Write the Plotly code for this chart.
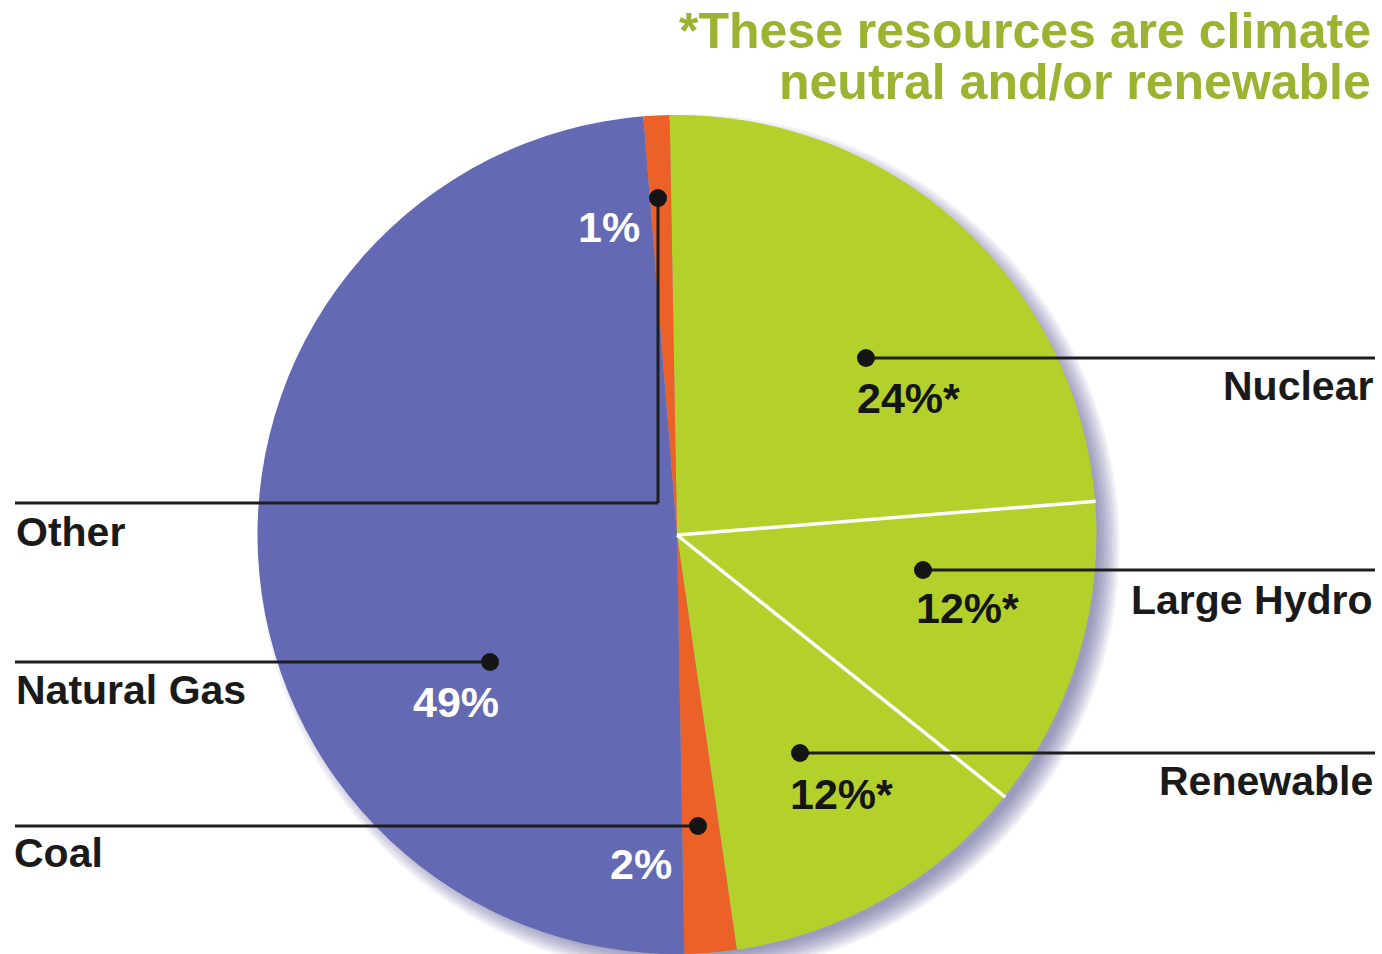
import math
import plotly.graph_objects as go

# ---------------- data ----------------
categories = ["Nuclear", "Large Hydro", "Renewable", "Coal", "Natural Gas", "Other"]
shares = [24, 12, 12, 2, 49, 1]
pct_labels = ["24%*", "12%*", "12%*", "2%", "49%", "1%"]
title_lines = ["*These resources are climate", "neutral and/or renewable"]
# slices separated by a thin white rule (between the climate-neutral ones)
separated_after = ["Nuclear", "Large Hydro"]

# ---------------- styles ----------------
slice_colors = ["#B3D12A", "#B3D12A", "#B3D12A", "#EC6128", "#636AB3", "#EC6128"]
title_color = "#9AB330"
FONT = "Liberation Sans, Arial, Helvetica, sans-serif"
W, H = 1382, 954
ROTATION = -1

def px(x):
    return x / W

def py(y):
    return 1 - y / H

# pie geometry (pixels)
CX, CY, R = 677, 535, 420

# callout layout (pixel positions of dots, line ends, label text)
callouts = {
    "Nuclear":     dict(dot=(866, 358), line_to=[(1375, 358)], label=(1375, 386, "right"),
                        pct=(855, 398, "left"), pct_color="#151515"),
    "Large Hydro": dict(dot=(923, 570), line_to=[(1375, 570)], label=(1375, 600, "right"),
                        pct=(914, 608, "left"), pct_color="#151515"),
    "Renewable":   dict(dot=(800, 753), line_to=[(1375, 753)], label=(1375, 781, "right"),
                        pct=(788, 794, "left"), pct_color="#151515"),
    "Coal":        dict(dot=(698, 826), line_to=[(15, 826)], label=(12, 853, "left"),
                        pct=(674, 864, "right"), pct_color="white"),
    "Natural Gas": dict(dot=(490, 662), line_to=[(15, 662)], label=(14, 690, "left"),
                        pct=(501, 702, "right"), pct_color="white"),
    "Other":       dict(dot=(658, 198), line_to=[(658, 503), (15, 503)], label=(14, 532, "left"),
                        pct=(642, 227, "right"), pct_color="white"),
}

fig = go.Figure()

fig.add_trace(go.Pie(
    labels=categories,
    values=shares,
    sort=False,
    direction="clockwise",
    rotation=ROTATION,
    marker=dict(colors=slice_colors, line=dict(width=0)),
    textinfo="none",
    hoverinfo="label+percent",
    showlegend=False,
    domain=dict(x=[px(CX - R), px(CX + R)], y=[0, py(CY - R)]),
))

shapes = []
# soft drop shadow behind the pie (offset down-right)
for k in range(1, 10):
    r = R - 12 + k * 2.5
    sx, sy = CX + 12, CY + 10
    shapes.append(dict(type="circle", xref="paper", yref="paper", layer="below",
                       x0=px(sx - r), x1=px(sx + r), y0=py(sy + r), y1=py(sy - r),
                       fillcolor="rgba(50,60,130,0.07)", line=dict(width=0)))

# white separators derived from the slice boundaries
total = sum(shares)
cum = 0
for cat, v in zip(categories, shares):
    cum += v
    if cat in separated_after:
        ang = math.radians(ROTATION + 360 * cum / total)
        ex = CX + R * math.sin(ang)
        ey = CY - R * math.cos(ang)
        shapes.append(dict(type="line", xref="paper", yref="paper", layer="above",
                           x0=px(CX), y0=py(CY), x1=px(ex), y1=py(ey),
                           line=dict(color="white", width=3.5)))

annotations = []
for cat, pct in zip(categories, pct_labels):
    c = callouts[cat]
    pts = [c["dot"]] + c["line_to"]
    for (x0, y0), (x1, y1) in zip(pts[:-1], pts[1:]):
        shapes.append(dict(type="line", xref="paper", yref="paper", layer="above",
                           x0=px(x0), y0=py(y0), x1=px(x1), y1=py(y1),
                           line=dict(color="#1E1E1E", width=3)))
    dx, dy = c["dot"]
    rr = 9
    shapes.append(dict(type="circle", xref="paper", yref="paper", layer="above",
                       x0=px(dx - rr), x1=px(dx + rr), y0=py(dy + rr), y1=py(dy - rr),
                       fillcolor="#151515", line=dict(width=0)))
    lx, ly, la = c["label"]
    annotations.append(dict(text=cat, xref="paper", yref="paper", x=px(lx), y=py(ly),
                            xanchor=la, yanchor="middle", showarrow=False,
                            font=dict(family=FONT, size=41, color="#1A1A1A", weight="bold")))
    tx, ty, ta = c["pct"]
    annotations.append(dict(text=pct, xref="paper", yref="paper", x=px(tx), y=py(ty),
                            xanchor=ta, yanchor="middle", showarrow=False,
                            font=dict(family=FONT, size=43, color=c["pct_color"], weight="bold")))

for line, yc in zip(title_lines, [31, 82]):
    annotations.append(dict(text=line, xref="paper", yref="paper", x=px(1373), y=py(yc),
                            xanchor="right", yanchor="middle", showarrow=False,
                            font=dict(family=FONT, size=50, color=title_color, weight="bold")))

fig.update_layout(
    width=W, height=H,
    margin=dict(l=0, r=0, t=0, b=0),
    paper_bgcolor="white", plot_bgcolor="white",
    shapes=shapes, annotations=annotations,
)

fig.write_html(
    "out.html",
    config=dict(displayModeBar=False),
    post_script="document.body.style.margin='0px';document.body.style.overflow='hidden';",
)
